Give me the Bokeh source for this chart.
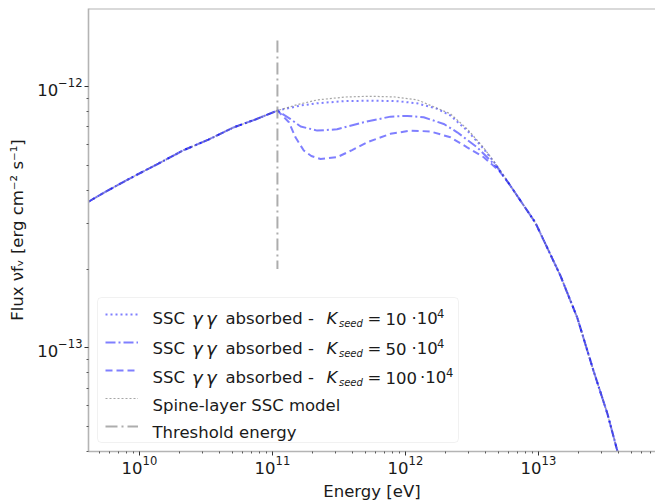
from bokeh.plotting import figure
from bokeh.models import (Legend, LegendItem, Label, BoxAnnotation, Span,
                          FixedTicker, LogTickFormatter)
from bokeh.embed import file_html
from bokeh.resources import INLINE

# ---------------- data ----------------
threshold_energy = 1.09e11          # eV
threshold_flux = [1.5e-12, 2.0e-13]  # extent of the threshold marker

# common low-energy branch (all curves coincide below threshold)
energy_low = [4.14e9, 6.05e9, 9.02e9, 1.39e10, 2.14e10, 3.30e10, 5.09e10, 7.45e10, 1.09e11]
flux_low = [3.62e-13, 4.05e-13, 4.52e-13, 5.07e-13, 5.70e-13, 6.26e-13, 6.97e-13, 7.48e-13, 8.09e-13]

# common high-energy tail
energy_high = [5.94e12, 9.48e12, 1.46e13, 1.96e13, 2.59e13, 3.30e13, 3.93e13, 4.51e13]
flux_high = [4.28e-13, 3.01e-13, 1.89e-13, 1.30e-13, 8.17e-14, 5.58e-14, 4.00e-14, 2.96e-14]

# Spine-layer SSC model (unabsorbed) between threshold and tail
model_energy = [1.54e11, 2.18e11, 3.54e11, 5.46e11, 8.41e11, 1.23e12, 2.18e12, 2.92e12, 3.85e12, 4.79e12]
model_flux = [8.53e-13, 8.89e-13, 9.12e-13, 9.18e-13, 9.12e-13, 8.89e-13, 7.86e-13, 6.87e-13, 5.85e-13, 5.05e-13]

# gamma-gamma absorbed, K_seed = 10e4
k10_energy = [1.63e11, 2.17e11, 3.44e11, 5.46e11, 8.67e11, 1.22e12, 1.73e12, 2.18e12, 2.91e12, 3.88e12, 4.79e12]
k10_flux = [8.46e-13, 8.63e-13, 8.79e-13, 8.83e-13, 8.79e-13, 8.63e-13, 8.22e-13, 7.74e-13, 6.78e-13, 5.77e-13, 5.02e-13]

# K_seed = 50e4
k50_energy = [1.36e11, 1.63e11, 2.17e11, 3.06e11, 4.85e11, 7.71e11, 1.03e12, 1.37e12, 1.94e12, 2.45e12, 3.46e12, 4.89e12]
k50_flux = [7.52e-13, 7.03e-13, 6.78e-13, 6.86e-13, 7.30e-13, 7.67e-13, 7.72e-13, 7.63e-13, 7.19e-13, 6.68e-13, 5.85e-13, 4.91e-13]

# K_seed = 100e4
k100_energy = [1.33e11, 1.49e11, 1.72e11, 1.96e11, 2.30e11, 3.06e11, 3.97e11, 5.15e11, 7.71e11,
               1.09e12, 1.54e12, 2.18e12, 2.91e12, 3.88e12, 5.04e12]
k100_flux = [7.30e-13, 6.39e-13, 5.69e-13, 5.42e-13, 5.28e-13, 5.36e-13, 5.71e-13, 6.12e-13, 6.59e-13,
             6.78e-13, 6.73e-13, 6.39e-13, 5.85e-13, 5.36e-13, 4.77e-13]

k_values = ["10", "50", "100"]

x_major = [1e10, 1e11, 1e12, 1e13]
y_major = [1e-13, 1e-12]

# ---------------- figure ----------------
FONT = "DejaVu Sans"
TXT = "#1a1a1a"
SPINE = "#b4b4b4"

x_lo, x_hi = 10 ** 9.617, 10 ** 13.880
y_lo, y_hi = 10 ** -13.398, 10 ** -11.701

p = figure(width=655, height=504, x_axis_type="log", y_axis_type="log",
           x_range=(x_lo, x_hi), y_range=(y_lo, y_hi),
           output_backend="svg", toolbar_location=None,
           min_border_left=88, min_border_right=0, min_border_top=8, min_border_bottom=53)
p.outline_line_color = None
p.grid.visible = False
p.background_fill_color = "white"
p.border_fill_color = "white"

x_minor = [m * 10.0 ** d for d in range(9, 14) for m in range(2, 10)]
y_minor = [m * 10.0 ** d for d in range(-14, -11) for m in range(2, 10)]
p.xaxis.ticker = FixedTicker(ticks=x_major, minor_ticks=x_minor)
p.yaxis.ticker = FixedTicker(ticks=y_major, minor_ticks=y_minor)
p.xaxis.formatter = LogTickFormatter()
p.yaxis.formatter = LogTickFormatter()

for ax in (p.xaxis, p.yaxis):
    ax.axis_line_color = SPINE
    ax.axis_line_width = 1.6
    ax.major_tick_line_color = "#333333"
    ax.minor_tick_line_color = "#333333"
    ax.major_tick_line_width = 1
    ax.minor_tick_line_width = 0.8
    ax.major_tick_out = 4
    ax.major_tick_in = 0
    ax.minor_tick_out = 2
    ax.minor_tick_in = 0
    ax.major_label_text_font = FONT
    ax.major_label_text_font_size = "16.5px"
    ax.major_label_text_color = TXT
    ax.axis_label_text_font = FONT
    ax.axis_label_text_font_size = "16.5px"
    ax.axis_label_text_font_style = "normal"
    ax.axis_label_text_color = TXT

p.xaxis.major_label_standoff = 0
p.yaxis.major_label_standoff = 2

p.xaxis.axis_label = "Energy [eV]"
p.xaxis.axis_label_standoff = 5
p.yaxis.axis_label = "Flux νfᵥ [erg cm⁻² s⁻¹]"
p.yaxis.axis_label_standoff = 7

# top spine
p.add_layout(Span(location=y_hi, dimension="width", line_color=SPINE, line_width=2))

# ---------------- curves ----------------
def branch(mid_e, mid_f):
    return energy_low + mid_e + energy_high, flux_low + mid_f + flux_high

e10, f10 = branch(k10_energy, k10_flux)
e50, f50 = branch(k50_energy, k50_flux)
e100, f100 = branch(k100_energy, k100_flux)
em, fm = branch(model_energy, model_flux)

r10 = p.line(e10, f10, line_color="blue", line_alpha=0.5, line_width=2, line_dash="2 3")
r50 = p.line(e50, f50, line_color="blue", line_alpha=0.5, line_width=2, line_dash="10 3 2 3")
r100 = p.line(e100, f100, line_color="blue", line_alpha=0.5, line_width=2, line_dash="7 4")
rm = p.line(em, fm, line_color="gray", line_alpha=0.7, line_width=1.2, line_dash="2 2")
rt = p.line([threshold_energy, threshold_energy], threshold_flux, line_color="#999999",
            line_alpha=0.8, line_width=2, line_dash="12 4 2 4")

# ---------------- legend ----------------
p.add_layout(BoxAnnotation(left=9, right=370, bottom=9, top=154,
                           left_units="screen", right_units="screen",
                           top_units="screen", bottom_units="screen",
                           fill_color="white", fill_alpha=0.85,
                           line_color="#d0d0d0", line_width=1, border_radius=4))

legend = Legend(items=[LegendItem(label="", renderers=[r]) for r in (r10, r50, r100, rm, rt)],
                location=(17, 11), orientation="vertical", padding=0, spacing=0, margin=0,
                glyph_width=33, glyph_height=28, label_height=28, label_width=20,
                label_standoff=14, border_line_color=None, background_fill_alpha=0,
                label_text_font_size="1px")
p.add_layout(legend)


def add_text(x, y, text, size="16.5px", style="normal"):
    p.add_layout(Label(x=x, y=y, x_units="screen", y_units="screen", text=text,
                       text_font=FONT, text_font_size=size, text_font_style=style,
                       text_color=TXT, text_align="left", text_baseline="alphabetic"))


row_base = [132.7, 102.7, 73.7]
dot_x = [323, 323, 331.5]
sup_x = [348.5, 348.5, 357.5]
for i, k in enumerate(k_values):
    yb = row_base[i]
    add_text(64, yb, "SSC")
    add_text(103.5, yb, "γ", size="18px", style="italic")
    add_text(117.5, yb, "γ", size="18px", style="italic")
    add_text(137, yb, "absorbed -")
    add_text(238, yb, "K", style="italic")
    add_text(250.5, yb - 4.5, "seed", size="10px", style="italic")
    add_text(279, yb, "=")
    add_text(297, yb, k)
    add_text(dot_x[i], yb, "·10")
    add_text(sup_x[i], yb + 5, "4", size="11.5px")
add_text(64, 46, "Spine-layer SSC model")
add_text(64, 19.3, "Threshold energy")

open("out.html", "w").write(file_html(p, INLINE, "plot"))
